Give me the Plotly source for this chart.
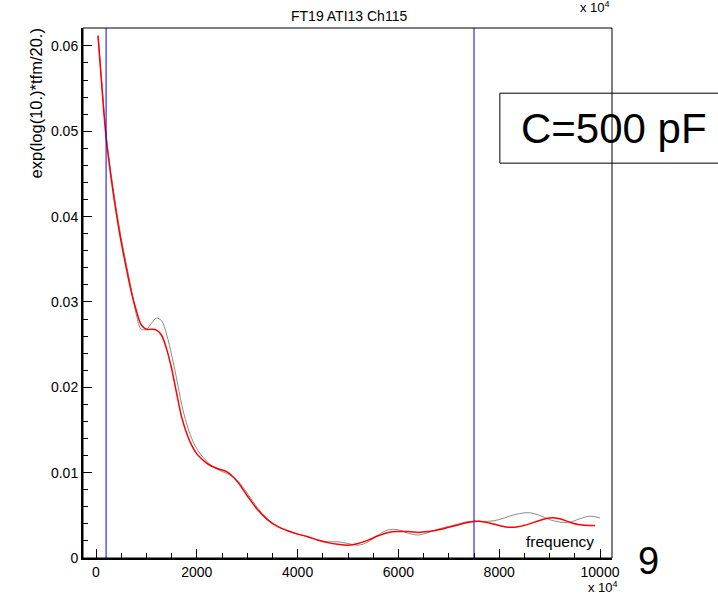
import plotly.graph_objects as go

# Measured curve (red) and reference curve (grey): frequency vs amplitude
freq_fit = [40, 100, 200, 300, 400, 500, 600, 700, 800, 900, 1000, 1100, 1200, 1300,
            1400, 1500, 1600, 1700, 1800, 1900, 2000, 2200, 2400, 2600, 2800, 3000,
            3200, 3400, 3600, 3800, 4000, 4200, 4400, 4600, 4800, 5000, 5200, 5400,
            5600, 5800, 6000, 6200, 6400, 6600, 6800, 7000, 7200, 7400, 7600, 7800,
            8000, 8200, 8400, 8600, 8800, 9000, 9200, 9400, 9600, 9800, 9900]
amp_fit = [0.0612, 0.0565, 0.0493, 0.0445, 0.0405, 0.0370, 0.0340, 0.0312, 0.0290,
           0.0273, 0.0268, 0.0268, 0.0267, 0.0261, 0.0245, 0.0222, 0.0193, 0.0165,
           0.0146, 0.0132, 0.0122, 0.0111, 0.0105, 0.0101, 0.0090, 0.0073, 0.0057,
           0.0045, 0.0037, 0.0032, 0.0028, 0.0025, 0.0021, 0.0018, 0.0016, 0.0015,
           0.0017, 0.0021, 0.0026, 0.0030, 0.0031, 0.0031, 0.0030, 0.0031, 0.0033,
           0.0036, 0.0039, 0.0042, 0.0043, 0.0041, 0.0038, 0.0036, 0.0037, 0.0040,
           0.0044, 0.0047, 0.0046, 0.0042, 0.0039, 0.0038, 0.0038]

freq_raw = [40, 100, 200, 300, 400, 500, 600, 700, 800, 900, 1000, 1100, 1200, 1300,
            1400, 1500, 1600, 1700, 1800, 1900, 2000, 2200, 2400, 2600, 2800, 3000,
            3200, 3400, 3600, 3800, 4000, 4200, 4400, 4600, 4800, 5000, 5200, 5400,
            5600, 5800, 6000, 6200, 6400, 6600, 6800, 7000, 7200, 7400, 7600, 7800,
            8000, 8200, 8400, 8600, 8800, 9000, 9200, 9400, 9600, 9800, 10000]
amp_raw = [0.0612, 0.0568, 0.0497, 0.0450, 0.0410, 0.0375, 0.0345, 0.0315, 0.0285,
           0.0268, 0.0268, 0.0275, 0.0281, 0.0278, 0.0262, 0.0238, 0.0210, 0.0180,
           0.0157, 0.0140, 0.0128, 0.0113, 0.0104, 0.0099, 0.0091, 0.0076, 0.0059,
           0.0046, 0.0037, 0.0032, 0.0028, 0.0025, 0.0021, 0.0019, 0.0019, 0.0017,
           0.0015, 0.0019, 0.0027, 0.0033, 0.0033, 0.0029, 0.0027, 0.0030, 0.0034,
           0.0037, 0.0040, 0.0043, 0.0043, 0.0043, 0.0045, 0.0049, 0.0052, 0.0053,
           0.0050, 0.0045, 0.0042, 0.0042, 0.0046, 0.0049, 0.0047]

# Frequency window boundaries
window_hz = [200, 7500]

x_ticks = [0, 2000, 4000, 6000, 8000, 10000]
y_ticks = [0, 0.01, 0.02, 0.03, 0.04, 0.05, 0.06]
y_tick_text = ["0", "0.01", "0.02", "0.03", "0.04", "0.05", "0.06"]

FONT = "Liberation Sans, Arial, sans-serif"

fig = go.Figure()
fig.add_trace(go.Scatter(x=freq_raw, y=amp_raw, mode="lines", line_shape="spline",
                         line=dict(color="#8a8a8a", width=1), hoverinfo="skip"))
fig.add_trace(go.Scatter(x=freq_fit, y=amp_fit, mode="lines", line_shape="spline",
                         line=dict(color="#ff0000", width=1.5), hoverinfo="skip"))
for f in window_hz:
    fig.add_vline(x=f, line=dict(color="#0000ff", width=1))

# thin frame on all four sides
fig.add_shape(type="rect", xref="paper", yref="paper", x0=0, x1=1, y0=0, y1=1,
              line=dict(color="black", width=1), layer="above")

# caption box
fig.add_shape(type="rect", xref="paper", yref="paper", x0=0.788, x1=1.22, y0=0.745, y1=0.877,
              line=dict(color="black", width=1), fillcolor="rgba(0,0,0,0)")

fig.update_layout(
    width=718, height=594,
    margin=dict(l=83, r=106, t=28, b=36),
    paper_bgcolor="white", plot_bgcolor="white",
    showlegend=False,
    font=dict(family=FONT, size=14, color="black"),
    xaxis=dict(range=[-258, 10238], tickvals=x_ticks, ticktext=[str(v) for v in x_ticks],
               ticks="inside", ticklen=9, tickcolor="black", tickwidth=1,
               minor=dict(dtick=500, tick0=0, ticks="inside", ticklen=5, tickcolor="black"),
               showgrid=False, zeroline=False, showline=True, linecolor="black", linewidth=2,
               tickfont=dict(size=14)),
    yaxis=dict(range=[0, 0.0621], tickvals=y_ticks, ticktext=y_tick_text,
               ticks="inside", ticklen=9, tickcolor="black", tickwidth=1,
               minor=dict(dtick=0.002, tick0=0, ticks="inside", ticklen=5, tickcolor="black"),
               showgrid=False, zeroline=False, showline=True, linecolor="black", linewidth=2,
               tickfont=dict(size=14)),
    annotations=[
        dict(text="FT19 ATI13 Ch115", xref="paper", yref="paper", x=0.503, y=1.0,
             yshift=12, xanchor="center", yanchor="middle", showarrow=False,
             font=dict(size=14)),
        dict(text="exp(log(10.)*tfm/20.)", xref="paper", yref="paper", x=-0.088, y=1.0,
             xanchor="center", yanchor="top", textangle=-90, showarrow=False,
             font=dict(size=16.5), yshift=2),
        dict(text="frequency", xref="paper", yref="paper", x=0.970, y=0.032,
             xanchor="right", yanchor="middle", showarrow=False, font=dict(size=15.5)),
        dict(text="x 10<sup>4</sup>", xref="paper", yref="paper", x=1.015, y=0.0,
             xanchor="right", yanchor="top", yshift=-19, showarrow=False,
             font=dict(size=13)),
        dict(text="x 10<sup>4</sup>", xref="paper", yref="paper", x=1.0, y=1.0,
             xanchor="right", yanchor="bottom", yshift=11, showarrow=False,
             font=dict(size=13)),
        dict(text="C=500 pF", xref="paper", yref="paper", x=0.824, y=0.811,
             xanchor="left", yanchor="middle", showarrow=False,
             font=dict(size=42)),
        dict(text="9", xref="paper", yref="paper", x=1.045, y=-0.006,
             xanchor="left", yanchor="middle", showarrow=False,
             font=dict(size=38)),
    ],
)

fig.write_html("out.html")
